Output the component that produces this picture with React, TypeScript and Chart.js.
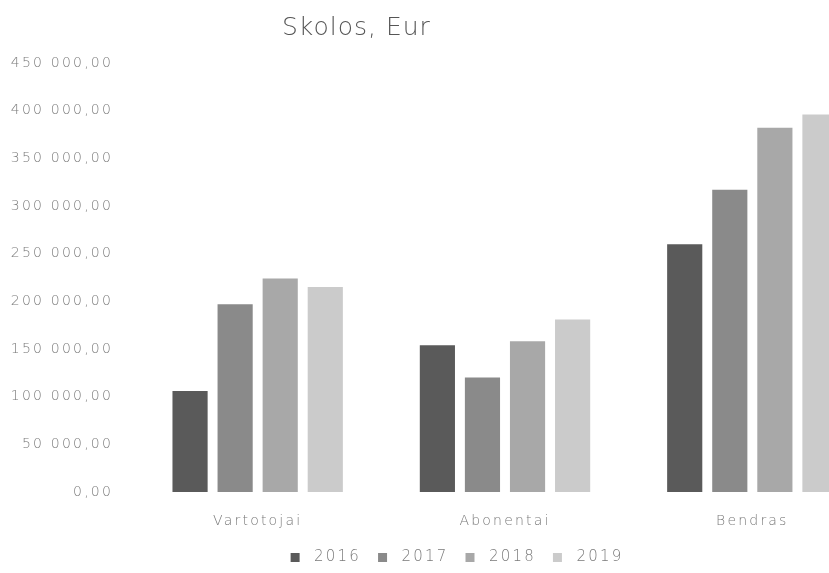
import React, { useEffect, useRef } from 'react';
import { Chart, registerables } from 'chart.js';

Chart.register(...registerables);

const chartTitle = 'Skolos, Eur';
const categories = ['Vartotojai', 'Abonentai', 'Bendras'];
const seriesLabels = ['2016', '2017', '2018', '2019'];
const values2016 = [106000, 154000, 260000];
const values2017 = [197000, 120000, 317000];
const values2018 = [224000, 158000, 382000];
const values2019 = [215000, 181000, 396000];
const seriesColors = ['#5a5a5a', '#8a8a8a', '#a8a8a8', '#cbcbcb'];
const yMin = 0;
const yMax = 450000;
const yStep = 50000;

const textColor = '#7a7a7a';
const fontFamily = '"DejaVu Sans", sans-serif';
const fontWeight = '200';

function formatValue(v: number): string {
  const s = Math.round(v).toString().replace(/\B(?=(\d{3})+(?!\d))/g, ' ');
  return s + ',00';
}

const spacingPlugin = {
  id: 'letterSpacingPlugin',
  beforeLayout(chart: any) {
    chart.ctx.letterSpacing = '2.2px';
  },
  afterLayout(chart: any) {
    if (chart.legend) {
      chart.legend.left += 38;
    }
  },
  beforeDraw(chart: any) {
    chart.ctx.letterSpacing = '2.2px';
  },
};

export default function App() {
  const canvasRef = useRef<HTMLCanvasElement | null>(null);

  useEffect(() => {
    if (!canvasRef.current) return;
    const allValues = [values2016, values2017, values2018, values2019];
    const chart = new Chart(canvasRef.current, {
      type: 'bar',
      data: {
        labels: categories,
        datasets: seriesLabels.map((label, i) => ({
          label,
          data: allValues[i],
          backgroundColor: seriesColors[i],
          borderWidth: 0,
          categoryPercentage: 0.729,
          barPercentage: 0.78,
        })),
      },
      options: {
        responsive: false,
        animation: false,
        devicePixelRatio: 1,
        layout: { padding: { top: 63, right: 48, bottom: -2, left: 0 } },
        plugins: {
          title: { display: false },
          tooltip: { enabled: false },
          legend: {
            position: 'bottom',
            labels: {
              boxWidth: 9,
              boxHeight: 9,
              padding: 17,
              color: textColor,
              font: { family: fontFamily, size: 15, weight: fontWeight },
              generateLabels: (c: any) =>
                (Chart.defaults.plugins.legend.labels.generateLabels as any)(c).map((l: any) => ({
                  ...l,
                  text: ' ' + l.text,
                })),
            },
          },
        },
        scales: {
          x: {
            grid: { display: false, drawTicks: false },
            border: { display: false },
            ticks: { padding: 21, color: textColor, font: { family: fontFamily, size: 14, weight: fontWeight } },
            afterFit: (s: any) => {
              s.height = 41;
            },
          },
          y: {
            min: yMin,
            max: yMax,
            grid: { display: false, drawTicks: false },
            border: { display: false },
            ticks: {
              stepSize: yStep,
              padding: 21,
              color: textColor,
              font: { family: fontFamily, size: 14, weight: fontWeight },
              callback: (v: any) => formatValue(Number(v)),
            },
            afterFit: (s: any) => {
              s.width = 134;
            },
          },
        },
      } as any,
      plugins: [spacingPlugin as any],
    });
    return () => chart.destroy();
  }, []);

  return (
    <div
      style={{
        position: 'absolute',
        left: 0,
        top: 0,
        width: 829,
        height: 573,
        overflow: 'hidden',
        background: '#ffffff',
      }}
    >
      <div
        style={{
          position: 'absolute',
          left: 282,
          top: 12,
          fontFamily,
          fontSize: 25,
          fontWeight: 300,
          letterSpacing: '1px',
          color: '#555555',
          whiteSpace: 'nowrap',
        }}
      >
        {chartTitle}
      </div>
      <canvas ref={canvasRef} width={924} height={573} style={{ display: 'block' }} />
    </div>
  );
}
